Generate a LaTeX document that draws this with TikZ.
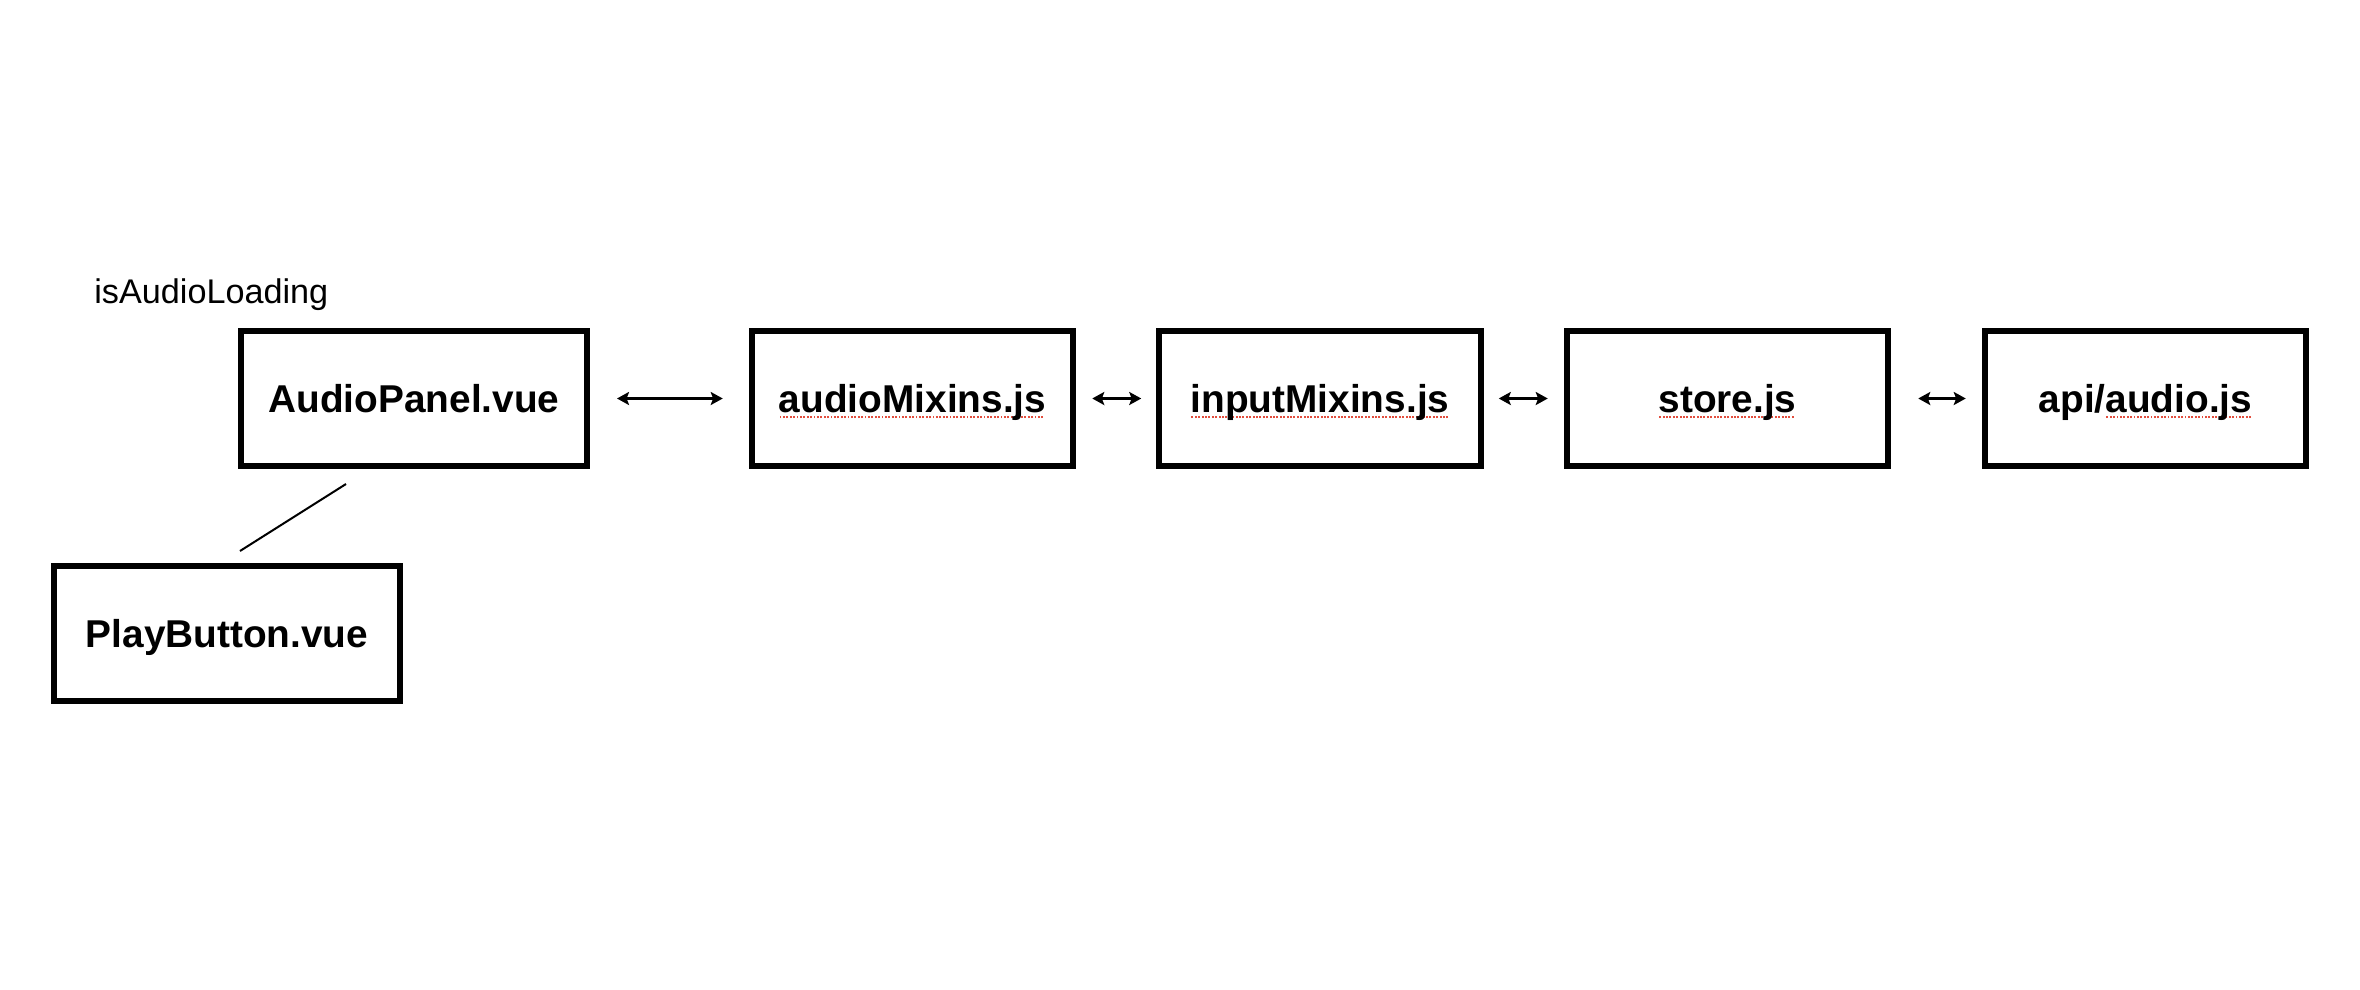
\documentclass[tikz,border=0pt]{standalone}
\usepackage{fontspec}
\setmainfont{Liberation Sans}
\usetikzlibrary{arrows.meta}
\definecolor{spell}{RGB}{226,78,62}
\newcommand{\spl}[1]{\setbox0=\hbox{#1}\rlap{\raisebox{-2.9pt}{\color{spell}\leaders\hbox to 1.7pt{\hss\rule{0.95pt}{0.95pt}\hss}\hskip\wd0}}\box0}
\tikzset{
  filebox/.style={draw, line width=3pt, inner sep=0pt, minimum height=67.5pt,
    font=\bfseries\fontsize{19.4pt}{23pt}\selectfont, text height=13.9pt, text depth=0pt},
  wide/.style={minimum width=173pt},
  narrow/.style={minimum width=160.75pt},
  link/.style={line width=1.3pt, {Stealth[length=6pt,width=6.5pt,inset=1.2pt]}-{Stealth[length=6pt,width=6.5pt,inset=1.2pt]}},
  plain/.style={line width=1pt},
  note/.style={font=\fontsize{17.1pt}{20pt}\selectfont, anchor=base west, inner sep=0pt}
}
\begin{document}
\begin{tikzpicture}[x=0.5pt,y=-0.5pt]
\useasboundingbox[fill=white] (0,0) rectangle (2360,990);
\node[filebox,wide] (ap) at (414,398.5) {AudioPanel.vue};
\node[filebox,narrow] (am) at (912.5,398.5) {\spl{audioMixins.js}};
\node[filebox,narrow] (im) at (1320,398.5) {\spl{inputMixins.js}};
\node[filebox,narrow] (st) at (1727.5,398.5) {\spl{store.js}};
\node[filebox,narrow] (api) at (2145.5,398.5) {api/\spl{audio.js}};
\node[filebox,wide] (pb) at (227,633.5) {PlayButton.vue};
\node[note] (lbl) at (94,303) {isAudioLoading};
\draw[link, shorten <=13.5pt, shorten >=13pt] (ap.east) -- (am.west);
\draw[link, shorten <=8pt, shorten >=7.5pt] (am.east) -- (im.west);
\draw[link, shorten <=7.5pt, shorten >=8pt] (im.east) -- (st.west);
\draw[link, shorten <=13.5pt, shorten >=8pt] (st.east) -- (api.west);
\coordinate (c1) at (346,484);
\coordinate (c2) at (240,551);
\draw[plain] (c1) -- (c2);
\end{tikzpicture}
\end{document}
